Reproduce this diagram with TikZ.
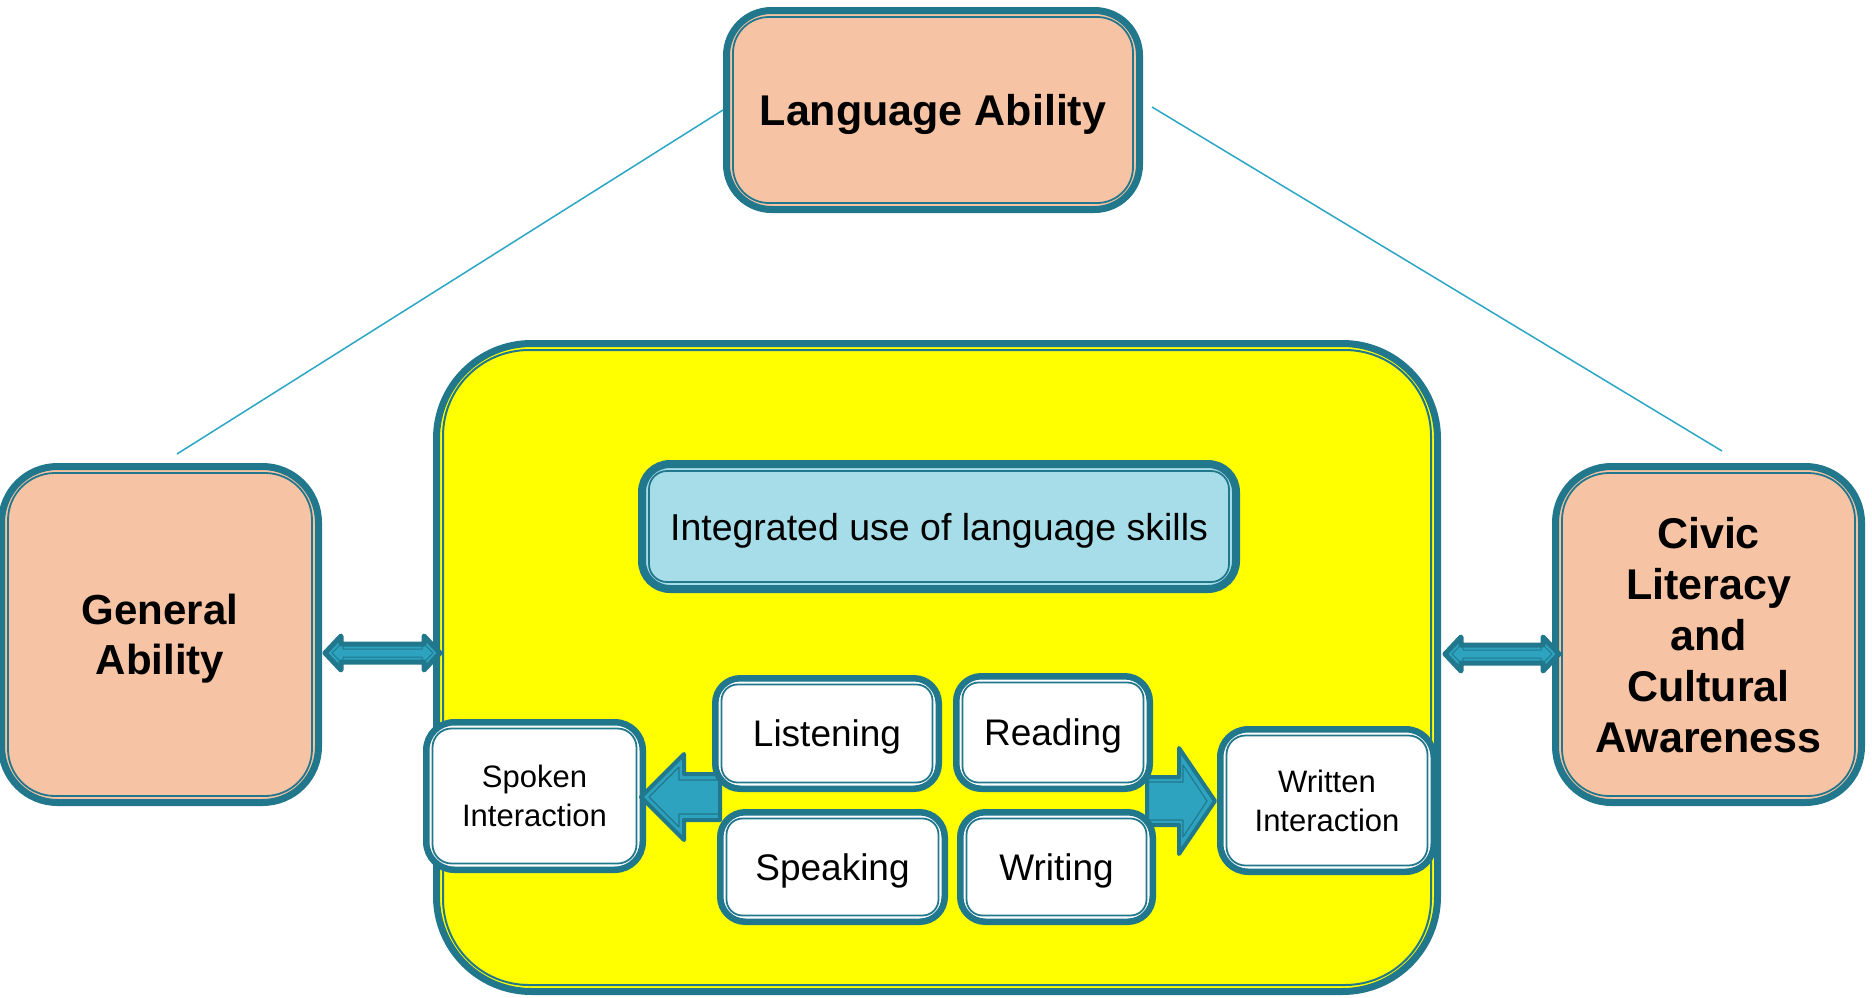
\documentclass[tikz,border=0pt]{standalone}
\usepackage{fontspec}
\setmainfont{Liberation Sans}
\usetikzlibrary{calc}
\definecolor{tealD}{RGB}{33,119,140}
\definecolor{salmon}{RGB}{246,195,164}
\definecolor{lblue}{RGB}{166,221,233}
\definecolor{afill}{RGB}{45,163,191}
\definecolor{lineC}{RGB}{43,166,196}
\definecolor{yel}{RGB}{255,255,0}
\tikzset{
  box/.style={draw=tealD, inner sep=0pt, align=center, text depth=0pt},
  bigbox/.style={box, fill=salmon, line width=7, rounded corners=56,
    font=\bfseries\fontsize{42}{50}\selectfont},
  skill/.style={box, fill=white, line width=6.5, rounded corners=25,
    font=\fontsize{37}{44}\selectfont},
  interact/.style={box, fill=white, line width=6.5, rounded corners=28,
    font=\fontsize{31}{39}\selectfont},
  thinln/.style={draw=lineC, line width=1.5},
  blockarrow/.style={draw=tealD, fill=afill, line width=4, line join=round},
  arrowin/.style={draw=tealD, line width=1.1, line join=round},
  dblout/.style={draw=tealD, fill=afill, line width=5, line join=round},
  dblin/.style={draw=tealD, line width=1, line join=round},
}
\newcommand{\inln}[4]{\draw[tealD, line width=#4, rounded corners=#3]
  ([shift={(#2,#2)}]#1.north west) rectangle ([shift={(-#2,-#2)}]#1.south east);}
\newcommand{\fatdbl}[6]{\draw[#6] (#1) -- ++(#3,-#4) -- ++(0,{#4-#5}) -- ++({#2-2*#3},0)
  -- ++(0,{-(#4-#5)}) -- ++(#3,#4) -- ++(-#3,#4) -- ++(0,{-(#4-#5)})
  -- ++({-(#2-2*#3)},0) -- ++(0,{#4-#5}) -- cycle;}
\begin{document}
\begin{tikzpicture}[x=1pt,y=-1pt]
\useasboundingbox (0,0) rectangle (1872,997);
\fill[white] (0,0) rectangle (1872,997);

% top box
\node[bigbox, rounded corners=45, minimum width=413, minimum height=199,
  font=\bfseries\fontsize{43}{52}\selectfont] (lang) at (933,110) {Language Ability};
\inln{lang}{10}{36}{1.8}

% side boxes
\node[bigbox, minimum width=317, minimum height=336] (gen) at (160,634.5) {General\\Ability};
\inln{gen}{10}{47}{1.8}
\node[bigbox, minimum width=306, minimum height=336,
  font=\bfseries\fontsize{43}{51}\selectfont] (civic) at (1708.5,634.5)
  {Civic\\Literacy\\and\\Cultural\\Awareness};
\inln{civic}{10}{47}{1.8}

% connecting thin lines
\draw[thinln] (lang.west) -- ([shift={(17,-9)}]gen.north);
\draw[thinln] ([shift={(9,-3)}]lang.east) -- ([shift={(13.5,-12)}]civic.north);

% big yellow frame
\node[box, fill=yel, line width=7, rounded corners=95, minimum width=1001,
  minimum height=648] (frame) at (937,667.5) {};
\inln{frame}{10}{86}{2}

% integrated
\node[box, fill=lblue, line width=8, rounded corners=28, minimum width=594,
  minimum height=125, font=\fontsize{37.5}{44}\selectfont] (integ) at (939,526.5)
  {Integrated use of language skills};
\inln{integ}{11}{18}{1.8}

% interaction boxes
\node[interact, minimum width=216.5, minimum height=147.5] (spoken) at (534.5,796)
  {Spoken\\Interaction};
\inln{spoken}{9.5}{19}{1.8}
\node[interact, minimum width=213.5, minimum height=142.5] (written) at (1327,800.5)
  {Written\\Interaction};
\inln{written}{9.5}{19}{1.8}

% block arrows
\coordinate (tl) at ([shift={(-5,1)}]spoken.east);
\draw[blockarrow] (tl) -- ++(43,-43) -- ++(0,20) -- ++(36,0) -- ++(0,46)
  -- ++(-36,0) -- ++(0,20) -- cycle;
\draw[arrowin] ([shift={(8,0)}]tl) -- ++(30,-30) -- ++(0,13) -- ++(41,0)
  -- ++(0,34) -- ++(-41,0) -- ++(0,13) -- cycle;
\coordinate (tr) at ([shift={(-2,0.5)}]written.west);
\draw[blockarrow] (tr) -- ++(-36,-53) -- ++(0,29) -- ++(-32,0) -- ++(0,48)
  -- ++(32,0) -- ++(0,29) -- cycle;
\draw[arrowin] ([shift={(-8,0)}]tr) -- ++(-24,-36) -- ++(0,17) -- ++(-36,0)
  -- ++(0,38) -- ++(36,0) -- ++(0,17) -- cycle;

% skills
\node[skill, minimum width=223.5, minimum height=110.5] (listen) at (827,733.5) {Listening};
\inln{listen}{9.5}{16}{1.8}
\node[skill, minimum width=193.5, minimum height=112.5] (read) at (1053,732.5) {Reading};
\inln{read}{9.5}{16}{1.8}
\node[skill, minimum width=224.5, minimum height=109.5] (speak) at (832.5,867) {Speaking};
\inln{speak}{9.5}{16}{1.8}
\node[skill, minimum width=192.5, minimum height=109.5] (write) at (1056.5,867) {Writing};
\inln{write}{9.5}{16}{1.8}

% double arrows
\coordinate (dl) at ([shift={(3,18.5)}]gen.east);
\fatdbl{dl}{115}{16}{17}{9}{dblout}
\fatdbl{$(dl)+(7,0)$}{101}{11}{11}{4}{dblin}
\coordinate (dr) at ([shift={(4,-13.5)}]frame.east);
\fatdbl{dr}{114}{16}{17}{9}{dblout}
\fatdbl{$(dr)+(7,0)$}{100}{11}{11}{4}{dblin}
\end{tikzpicture}
\end{document}
